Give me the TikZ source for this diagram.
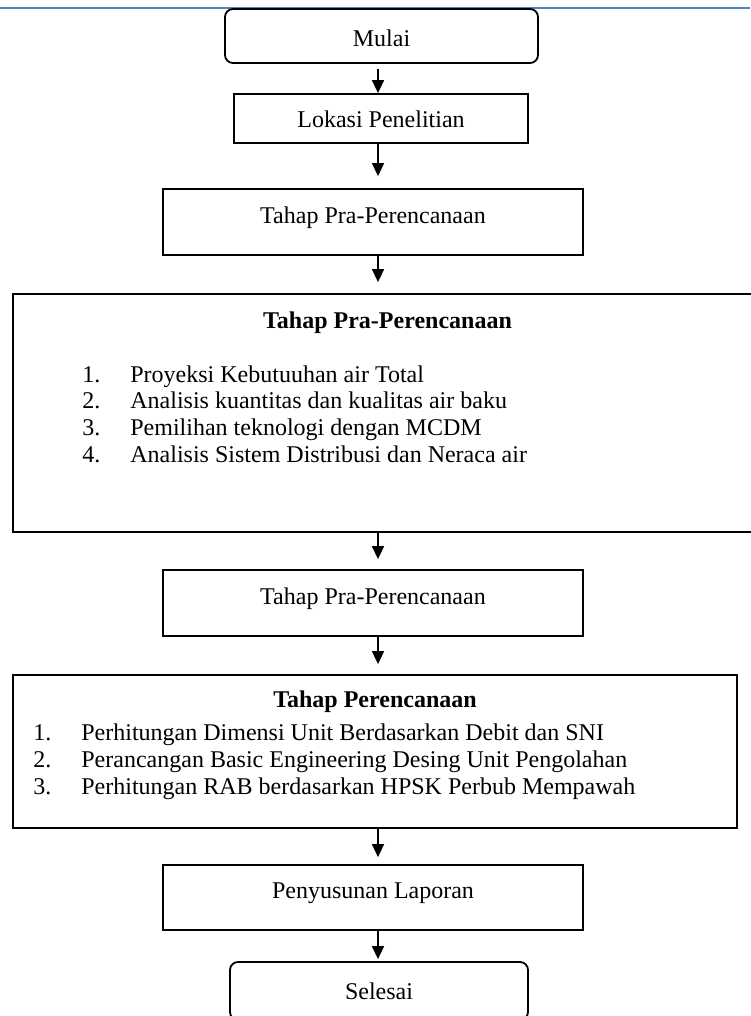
\documentclass[tikz,border=0pt,12pt]{standalone}
\usepackage{fontspec}
\setmainfont{Liberation Serif}
\usetikzlibrary{positioning, arrows.meta}
\definecolor{header}{RGB}{79,129,189}
\tikzset{
  term/.style={draw, rounded corners=4pt, line width=.9pt, minimum height=27pt},
  plain/.style={draw, line width=.9pt},
  stage/.style={draw, line width=.9pt, minimum width=210pt, minimum height=33pt,
    text height=8.5pt, text depth=7.5pt},
  item/.style={anchor=base west, inner sep=0pt},
  flow/.style={-{Triangle[width=6pt, length=6.5pt]}, line width=.8pt},
}

\begin{document}
\begin{tikzpicture}[x=.5pt, y=-.5pt]
\useasboundingbox (0,0) rectangle (750,1016);
\coordinate (spine) at (378,0);

% page header rule
\draw[draw=header, line width=1.2pt] (0,8) -- (750,8);

\node[term, minimum width=156.5pt, text height=11pt, text depth=0pt] (mulai)
  at (381.5,36) {Mulai};
\node[plain, minimum width=147pt, minimum height=24.5pt, text height=9.5pt,
  text depth=0pt] (lokasi) at (381,118.5) {Lokasi Penelitian};
\node[stage] (praAwal) at (373,222) {Tahap Pra-Perencanaan};

% pre-design box, runs off the right edge of the page
\node[plain, minimum width=374.5pt, minimum height=119pt] (praIsi) at (387.5,413) {};
\node[anchor=base, font=\bfseries] (praJudul) at (387.5,328) {Tahap Pra-Perencanaan};
\node[item] (pra1) at (82,382) {\makebox[24pt][l]{1.}Proyeksi Kebutuuhan air Total};
\node[item] (pra2) at (82,408.7) {\makebox[24pt][l]{2.}Analisis kuantitas dan kualitas air baku};
\node[item] (pra3) at (82,435.4) {\makebox[24pt][l]{3.}Pemilihan teknologi dengan MCDM};
\node[item] (pra4) at (82,462) {\makebox[24pt][l]{4.}Analisis Sistem Distribusi dan Neraca air};

\node[stage] (praLagi) at (373,603) {Tahap Pra-Perencanaan};

% design box
\node[plain, minimum width=362pt, minimum height=76.5pt] (rencana) at (375,751.5) {};
\node[anchor=base, font=\bfseries] (rencanaJudul) at (375,707) {Tahap Perencanaan};
\node[item] (ren1) at (33,740) {\makebox[24pt][l]{1.}Perhitungan Dimensi Unit Berdasarkan Debit dan SNI};
\node[item] (ren2) at (33,767) {\makebox[24pt][l]{2.}Perancangan Basic Engineering Desing Unit Pengolahan};
\node[item] (ren3) at (33,794) {\makebox[24pt][l]{3.}Perhitungan RAB berdasarkan HPSK Perbub Mempawah};

\node[stage, minimum height=32.5pt] (laporan) at (373,897.5) {Penyusunan Laporan};
\node[term, minimum width=149pt, minimum height=29pt] (selesai) at (379,991) {Selesai};

\draw[flow, shorten <=2.5pt] (mulai.south -| spine) -- (lokasi.north -| spine);
\draw[flow, shorten >=6pt] (lokasi.south -| spine) -- (praAwal.north -| spine);
\draw[flow, shorten >=5.5pt] (praAwal.south -| spine) -- (praIsi.north -| spine);
\draw[flow, shorten >=5pt] (praIsi.south -| spine) -- (praLagi.north -| spine);
\draw[flow, shorten >=5pt] (praLagi.south -| spine) -- (rencana.north -| spine);
\draw[flow, shorten >=3.5pt] (rencana.south -| spine) -- (laporan.north -| spine);
\draw[flow, shorten >=1pt] (laporan.south -| spine) -- (selesai.north -| spine);
\end{tikzpicture}
\end{document}
